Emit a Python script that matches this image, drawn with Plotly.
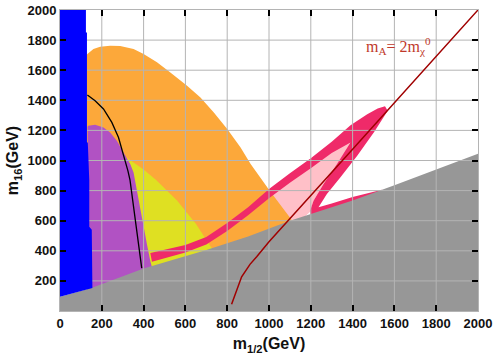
import plotly.graph_objects as go

# region outlines, (m_1/2, m_16) in GeV
gray_x = [0, 0, 150, 400, 700, 900, 1100, 1400, 1600, 2000, 2000]
gray_y = [0, 95, 152, 283, 405, 495, 600, 735, 835, 1045, 0]

blue_x = [0, 0, 124, 124, 129, 129, 133, 140, 140, 152, 155]
blue_y = [95, 2000, 2000, 1850, 1850, 1120, 1120, 870, 560, 540, 152]

orange_x = [128, 131, 160, 192, 240, 288, 352, 400, 464, 528, 608, 672, 736,
            800, 864, 912, 1000, 1100, 1130, 128]
orange_y = [1700, 1707, 1741, 1756, 1763, 1761, 1741, 1707, 1652, 1585, 1497,
            1419, 1319, 1209, 1087, 976, 806, 622, 560, 100]

yellow_x = [290, 318, 400, 460, 560, 650, 720, 745, 745, 290]
yellow_y = [1040, 1020, 940, 870, 735, 580, 430, 380, 150, 150]

purple_x = [132, 136, 168, 208, 240, 272, 304, 336, 352, 368, 392, 416, 432,
            440, 440, 132]
purple_y = [1224, 1231, 1237, 1220, 1186, 1131, 1053, 976, 920, 800, 622, 444,
            333, 290, 150, 100]

lightpink_x = [950, 1000, 1100, 1200, 1300, 1390, 1395, 1326, 1261, 1213,
               1197, 1150, 950]
lightpink_y = [690, 760, 865, 960, 1065, 1135, 1110, 978, 844, 733, 660, 600,
               520]

# crimson band: outer edge to the tip, down the right side, the strip on
# the gray border, then back along the inner edge
band_x = [432, 600, 700, 800, 900, 1000, 1100, 1200, 1300, 1390, 1470, 1520,
          1555, 1568, 1503, 1423, 1342, 1277, 1237, 1300, 1400, 1540, 1520,
          1200, 1197, 1213, 1261, 1326, 1390, 1300, 1200, 1100, 1000, 900,
          800, 700, 600, 440]
band_y = [385, 438, 492, 585, 690, 810, 915, 1015, 1125, 1235, 1308, 1345,
          1360, 1330, 1189, 1033, 889, 778, 689, 715, 758, 806, 700, 600,
          667, 733, 844, 978, 1120, 1050, 948, 852, 750, 637, 532, 442, 388,
          328]

black_x = [131, 168, 208, 248, 280, 304, 325, 335, 352, 367, 378, 391]
black_y = [1435, 1397, 1342, 1253, 1153, 1042, 931, 870, 690, 516, 400, 285]

red_x = [821, 845, 869, 909, 941, 1000, 1100, 1200, 1300, 1400, 1500, 1600,
         1700, 1800, 1900, 2000]
red_y = [45, 140, 227, 310, 360, 460, 612, 766, 920, 1075, 1229, 1383, 1537,
         1691, 1846, 2000]

ticks = list(range(0, 2001, 200))
x_labels = [str(t) for t in ticks]
y_labels = [""] + [str(t) for t in ticks[1:]]


def region(x, y, color):
    return go.Scatter(x=x, y=y, fill="toself", fillcolor=color, mode="none",
                      hoverinfo="skip", showlegend=False)


fig = go.Figure()
fig.add_trace(region(lightpink_x, lightpink_y, "#ffc0c8"))
fig.add_trace(region(orange_x, orange_y, "#fca83a"))
fig.add_trace(region(yellow_x, yellow_y, "#dfe022"))
fig.add_trace(region(purple_x, purple_y, "#b152c3"))
fig.add_trace(region(band_x, band_y, "#ef2a69"))
fig.add_trace(region(gray_x, gray_y, "#979797"))

# grid drawn over the regions, as in the original
gx, gy = [], []
for t in ticks[1:-1]:
    gx += [t, t, None]
    gy += [0, 2000, None]
    gx += [0, 2000, None]
    gy += [t, t, None]
fig.add_trace(go.Scatter(x=gx, y=gy, mode="lines", hoverinfo="skip",
                         line=dict(color="#b4b4b4", width=1), showlegend=False))

fig.add_trace(region(blue_x, blue_y, "#0000ff"))
fig.add_trace(go.Scatter(x=black_x, y=black_y, mode="lines", showlegend=False,
                         line=dict(color="black", width=1.3)))
fig.add_trace(go.Scatter(x=red_x, y=red_y, mode="lines", showlegend=False,
                         line=dict(color="#a00000", width=1.5)))

fig.add_annotation(x=1620, y=1760, text="m<sub>A</sub>= 2m<sub>χ</sub><sup>0</sup>",
                   showarrow=False, xanchor="center", yanchor="middle",
                   font=dict(family="Liberation Serif", size=16, color="#c0392b"))

axis_font = dict(family="Liberation Sans", size=13, color="#111", weight="bold")
title_font = dict(family="Liberation Sans", size=16, color="#111", weight="bold")
fig.update_xaxes(range=[0, 2000], tickvals=ticks, ticktext=x_labels,
                 showgrid=False, zeroline=False, showline=True,
                 linecolor="#b4b4b4", linewidth=1, mirror="ticks",
                 ticks="inside", ticklen=6, tickwidth=1.5, tickcolor="black",
                 tickfont=axis_font, automargin=False,
                 title=dict(text="m<sub>1/2</sub>(GeV)", standoff=8,
                            font=title_font))
fig.update_yaxes(range=[0, 2000], tickvals=ticks, ticktext=y_labels,
                 showgrid=False, zeroline=False, showline=True,
                 linecolor="#b4b4b4", linewidth=1, mirror="ticks",
                 ticks="inside", ticklen=6, tickwidth=1.5, tickcolor="black",
                 tickfont=axis_font, automargin=False,
                 title=dict(text="m<sub>16</sub>(GeV)", standoff=4,
                            font=title_font))
fig.update_layout(width=498, height=361, autosize=False,
                  margin=dict(l=60, r=20, t=10, b=50),
                  plot_bgcolor="white", paper_bgcolor="white",
                  showlegend=False)

# drop the page's default 8px body margin so the figure fills the window
fig.write_html("out.html", config={"displayModeBar": False},
               post_script="document.body.style.margin='0';")
